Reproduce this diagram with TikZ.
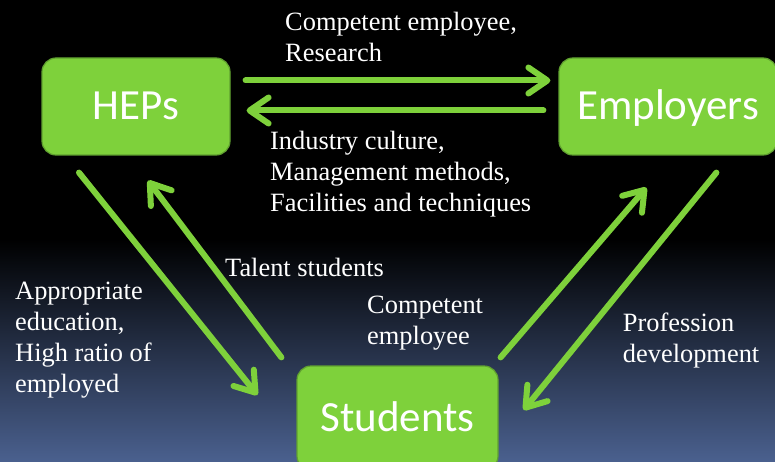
\documentclass[tikz,border=0pt]{standalone}
\usepackage{fontspec}
\setmainfont{Liberation Serif}
\newfontfamily\boxfont{Carlito}
\usetikzlibrary{arrows.meta}

\definecolor{leaf}{RGB}{126,209,59}
\definecolor{leafdark}{RGB}{96,160,48}
\definecolor{slate}{RGB}{74,96,142}

\begin{document}
\begin{tikzpicture}[x=1pt,y=1pt]
                \useasboundingbox (0,0) rectangle (775,461);
                \fill[black] (0,0) rectangle (775,461);
                \shade[top color=black,bottom color=slate] (0,0) rectangle (775,222);

                \begin{scope}[every node/.style={rectangle,rounded corners=14pt,fill=leaf,draw=leafdark,line width=1.2pt,
                            text=white,inner sep=0pt,text height=27pt,text depth=0pt,
                            font=\boxfont\fontsize{43}{50}\selectfont}]
                    \node[minimum width=188pt,minimum height=97pt] (HEPs) at (136,354.5) {HEPs};
                    \node[minimum width=218pt,minimum height=97pt] (Employers) at (668,354.5) {Employers};
                    \node[minimum width=201pt,minimum height=104pt] (Students) at (397.5,43) {Students};
                \end{scope}

                \begin{scope}[every node/.style={text=white,align=left,anchor=north west,inner sep=0pt,
                            font=\fontsize{26.4}{31}\selectfont}]
                    \node (research) at (285,449.5) {Competent employee,\\Research};
                    \node (culture) at (270,330.5) {Industry culture,\\Management methods,\\Facilities and techniques};
                    \node (talent) at (225,202.8) {Talent students};
                    \node (education) at (15,178.8) {Appropriate\\education,\\High ratio of\\employed};
                    \node (competent) at (367,165) {Competent\\employee};
                    \node (profession) at (622.7,148) {Profession\\development};
                \end{scope}

                \begin{scope}[every edge/.style={draw=leaf,line width=6pt,line cap=round,
                            -{Straight Barb[length=19pt,width=26pt,line cap=round,line join=round]}}]
                    \path ([xshift=15pt,yshift=26pt]HEPs.east) edge ([xshift=-8pt,yshift=26pt]Employers.west);
                    \path ([xshift=-15pt,yshift=-4pt]Employers.west) edge ([xshift=16pt,yshift=-4pt]HEPs.east);
                    \path ([shift={(-57pt,-17pt)}]HEPs.south) edge ([shift={(-39pt,23pt)}]Students.west);
                    \path ([shift={(-15pt,8pt)}]Students.north west) edge ([shift={(12pt,-25pt)}]HEPs.south);
                    \path ([shift={(2pt,8pt)}]Students.north east) edge ([shift={(88pt,-32pt)}]Employers.south west);
                    \path ([shift={(158pt,-17pt)}]Employers.south west) edge ([shift={(25pt,8pt)}]Students.east);
                \end{scope}
            \end{tikzpicture}
\end{document}
